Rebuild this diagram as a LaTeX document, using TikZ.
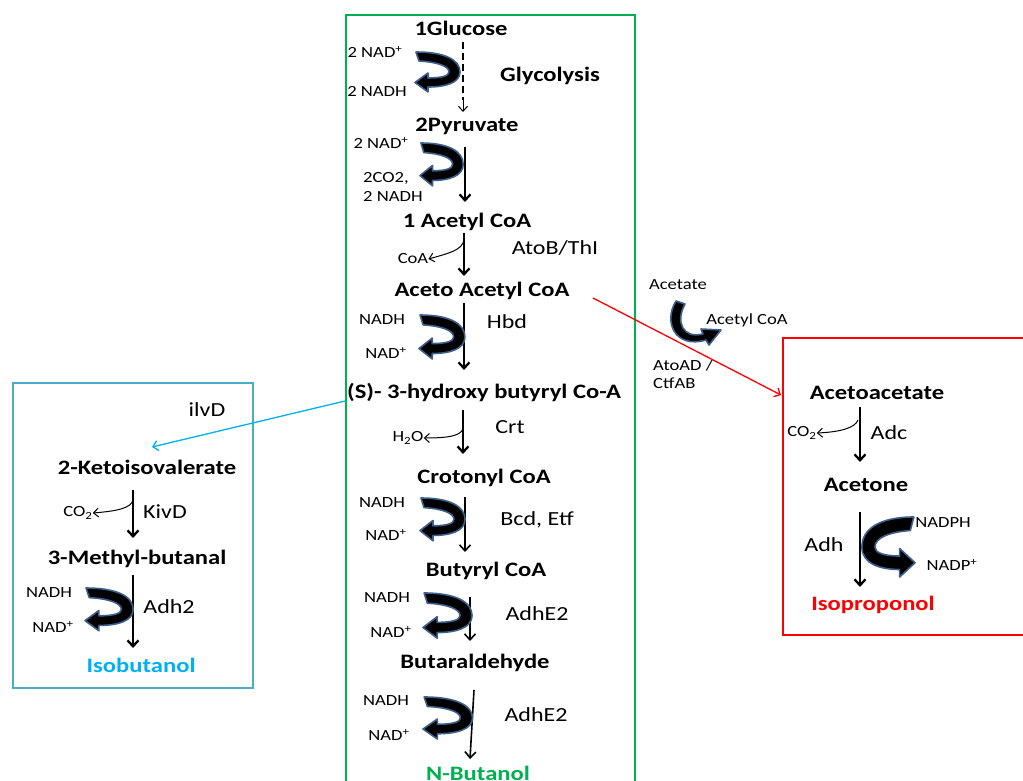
\documentclass[tikz,border=0pt]{standalone}
\usepackage{fontspec}
\setmainfont{Carlito}[FakeStretch=1.2]
\usetikzlibrary{arrows.meta}
\definecolor{gbox}{RGB}{0,176,80}
\definecolor{bbox}{RGB}{75,172,198}
\definecolor{lblue}{RGB}{0,176,240}
\definecolor{rbox}{RGB}{255,0,0}
\definecolor{cofedge}{RGB}{60,95,140}
\tikzset{
  met/.style={font=\fontsize{20.5}{24}\selectfont\bfseries, inner sep=0pt},
  enz/.style={font=\fontsize{20}{24}\selectfont, inner sep=0pt},
  cof/.style={font=\fontsize{15.5}{18.5}\selectfont, inner sep=0pt},
  rx/.style={line width=2.3pt, -{Straight Barb[length=6pt,width=11pt]}},
  thinarr/.style={line width=1pt, -{Straight Barb[length=5pt,width=9pt]}},
  cofarrow/.pic={\filldraw[fill=black, draw=cofedge, line width=1.6pt, line join=round]
    (1,0) .. controls (30,0) and (45,8) .. (45,20) .. controls (45,31) and (30,35) .. (13,35)
    -- (13,40) -- (0,30.5) -- (13,21) -- (13,26)
    .. controls (26,26) and (34,24) .. (34,20) .. controls (34,14) and (22,10) .. (4,9) -- cycle;}
}
\begin{document}
\begin{tikzpicture}[x=1pt,y=-1pt]
\useasboundingbox (0,0) rectangle (1023,781);
% boxes
\draw[gbox, line width=2.5pt] (346,800) -- (346,15) -- (635,15) -- (635,800);
\draw[bbox, line width=2.5pt] (13,383) rectangle (253,688);
\draw[rbox, line width=2.5pt] (1030,338) -- (783,338) -- (783,635) -- (1030,635);

% ---------- main column ----------
\node[met] (glc) at (461,28) {1Glucose};
\node[met] (glyc) at (550,76) {Glycolysis};
\node[cof] (nad1) at (375,52) {2 NAD\textsuperscript{+}};
\node[cof] (nadh1) at (377,91) {2 NADH};
\node[met] (pyr) at (467,126) {2Pyruvate};
\node[cof] (nad2) at (381,143) {2 NAD\textsuperscript{+}};
\node[cof, align=left, anchor=west] (co2a) at (363,187) {2CO2,\\2 NADH};
\node[met] (acoa) at (467,222) {1 Acetyl CoA};
\node[enz] (atob) at (555,248) {AtoB/ThI};
\node[cof] (coa) at (413,259) {CoA};
\node[met] (aacoa) at (482,291) {Aceto Acetyl CoA};
\node[enz] (hbd) at (507,322) {Hbd};
\node[cof] (nadh3) at (382,320) {NADH};
\node[cof] (nad3) at (386,353) {NAD\textsuperscript{+}};
\node[met] (hbcoa) at (484,393) {(S)- 3-hydroxy butyryl Co-A};
\node[cof] (h2o) at (408,438) {H\textsubscript{2}O};
\node[enz] (crt) at (510,427) {Crt};
\node[met] (crot) at (484,478) {Crotonyl CoA};
\node[cof] (nadh4) at (382,503) {NADH};
\node[cof] (nad4) at (386,535) {NAD\textsuperscript{+}};
\node[enz] (bcd) at (537,520) {Bcd, Etf};
\node[met] (bcoa) at (486,571) {Butyryl CoA};
\node[cof] (nadh5) at (387,598) {NADH};
\node[cof] (nad5) at (391,632) {NAD\textsuperscript{+}};
\node[enz] (adhe1) at (537,614) {AdhE2};
\node[met] (bald) at (475,663) {Butaraldehyde};
\node[cof] (nadh6) at (386,701) {NADH};
\node[cof] (nad6) at (389,735) {NAD\textsuperscript{+}};
\node[enz] (adhe2) at (536,715) {AdhE2};
\node[met, text=gbox] (nbut) at (478,773) {N-Butanol};

\coordinate (g1) at (463,42);
\coordinate (g2) at (463,100);
\coordinate (g3) at (463,112);
\draw[line width=1.2pt, dashed, dash pattern=on 7pt off 4pt] (g1) -- (g2);
\draw[thinarr] (g2) -- (g3);

\coordinate (p1) at (465,147); \coordinate (p2) at (465,202);
\draw[rx] (p1) -- (p2);
\coordinate (a1) at (464,233); \coordinate (a2) at (464,276);
\draw[rx] (a1) -- (a2);
\coordinate (a3) at (464,240);
\draw[thinarr] (a3) .. controls (462,250) and (450,253) .. (coa.east);
\coordinate (h1) at (464,303); \coordinate (h2) at (464,370);
\draw[rx] (h1) -- (h2);
\coordinate (c1) at (463,410); \coordinate (c2) at (463,454);
\draw[rx] (c1) -- (c2);
\coordinate (c3) at (463,429);
\draw[thinarr] (c3) .. controls (460,436) and (448,438) .. (h2o.east);
\coordinate (b1) at (465,497); \coordinate (b2) at (465,552);
\draw[line width=1.6pt, -{Straight Barb[length=6pt,width=11pt]}] (b1) -- (b2);
\coordinate (d1) at (470,597); \coordinate (d2) at (470,641);
\draw[line width=1.6pt, -{Straight Barb[length=6pt,width=11pt]}] (d1) -- (d2);
\coordinate (e1) at (474,690); \coordinate (e2) at (470,759);
\draw[line width=1.6pt, -{Straight Barb[length=6pt,width=11pt]}] (e1) -- (e2);

\pic at (415,52) {cofarrow};
\pic[xscale=0.96, yscale=1.07] at (420,143) {cofarrow};
\pic[xscale=1.02, yscale=1.1] at (419,315) {cofarrow};
\pic[xscale=1.0, yscale=1.07] at (420,498) {cofarrow};
\pic[xscale=1.09, yscale=1.13] at (423,593) {cofarrow};
\pic[xscale=1.1, yscale=1.05] at (423,697) {cofarrow};

% ---------- acetate branch ----------
\node[cof] (acet) at (678,285) {Acetate};
\node[cof] (acetcoa) at (747,320) {Acetyl CoA};
\node[cof, align=left, anchor=west] (atoad) at (653,374) {AtoAD /\\CtfAB};
\filldraw[fill=black, draw=cofedge, line width=1.6pt, line join=round]
  (676,301) .. controls (663,322) and (675,349) .. (706,340)
  -- (709,345) -- (721,330) -- (701,329) -- (703,334)
  .. controls (683,339) and (675,322) .. (685,304) -- cycle;

% ---------- red box ----------
\node[met] (acac) at (877,393) {Acetoacetate};
\node[cof] (co2r) at (802,433) {CO\textsubscript{2}};
\node[enz] (adc) at (889,433) {Adc};
\node[met] (acetone) at (866,485) {Acetone};
\node[enz] (adh) at (824,545) {Adh};
\node[cof] (nadph) at (943,523) {NADPH};
\node[cof] (nadp) at (952,565) {NADP\textsuperscript{+}};
\node[met, text=rbox] (iso) at (873,605) {Isoproponol};
\coordinate (r1) at (860,407); \coordinate (r2) at (860,462);
\draw[rx] (r1) -- (r2);
\coordinate (r3) at (858,420);
\draw[thinarr] (r3) .. controls (855,428) and (840,432) .. (co2r.east);
\coordinate (r4) at (860,512); \coordinate (r5) at (860,587);
\draw[rx] (r4) -- (r5);
\pic[xscale=-1.18, yscale=1.5] at (915,517) {cofarrow};

\coordinate (rs) at (593,298); \coordinate (re) at (781,395);
\draw[rbox, line width=1.3pt, -{Straight Barb[length=5pt,width=10pt]}] (rs) -- (re);

% ---------- blue box ----------
\node[enz] (ilvd) at (207,410) {ilvD};
\node[met] (kiv) at (147,467) {2-Ketoisovalerate};
\node[cof] (co2b) at (78,513) {CO\textsubscript{2}};
\node[enz] (kivd) at (165,512) {KivD};
\node[met] (mb) at (137,559) {3-Methyl-butanal};
\node[cof] (nadh7) at (49,593) {NADH};
\node[cof] (nad7) at (53,627) {NAD\textsuperscript{+}};
\node[enz] (adh2) at (169,607) {Adh2};
\node[met, text=lblue] (isob) at (141,665) {Isobutanol};
\coordinate (k1) at (133,490); \coordinate (k2) at (133,538);
\draw[rx] (k1) -- (k2);
\coordinate (k3) at (133,500);
\draw[thinarr] (k3) .. controls (131,508) and (118,511) .. (co2b.east);
\coordinate (m1) at (133,575); \coordinate (m2) at (133,648);
\draw[rx] (m1) -- (m2);
\pic[xscale=1.07, yscale=1.07] at (85,588) {cofarrow};
\coordinate (bs) at (345,401); \coordinate (be) at (152,447);
\draw[lblue, line width=1.3pt, -{Straight Barb[length=5pt,width=10pt]}] (bs) -- (be);
\end{tikzpicture}
\end{document}
